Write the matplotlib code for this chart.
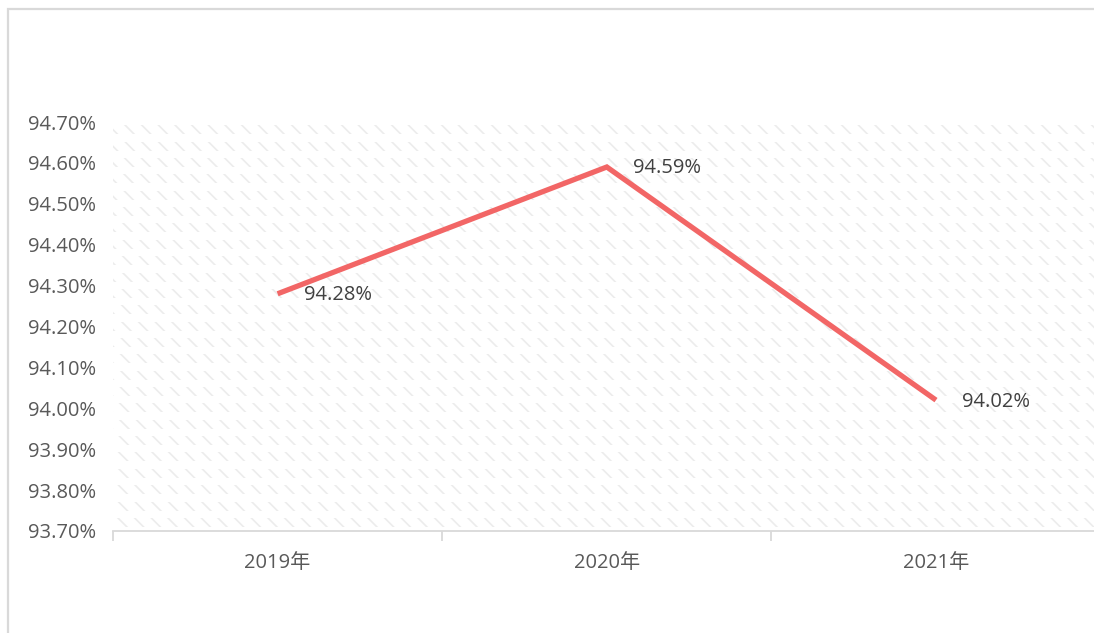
import matplotlib
matplotlib.use("Agg")
import matplotlib.pyplot as plt
from matplotlib.patches import Rectangle
from matplotlib.ticker import FuncFormatter, FixedLocator, MultipleLocator
import numpy as np

plt.rcParams['font.family'] = ['Open Sans', 'Noto Sans CJK SC', 'DejaVu Sans']
plt.rcParams['hatch.linewidth'] = 1.2

categories = ['2019年', '2020年', '2021年']
values = [94.28, 94.59, 94.02]
labels = ['94.28%', '94.59%', '94.02%']
y_min, y_max, y_step = 93.70, 94.70, 0.10

fig = plt.figure(figsize=(10.94, 6.33), dpi=100)
# outer light border
fig.patches.append(Rectangle((8/1094, -0.01), 1.2, (633-9)/633 + 0.01, transform=fig.transFigure,
                             fill=False, edgecolor='#d9d9d9', linewidth=1.6))

ax = fig.add_axes([113/1094, 102/633, (1094-113)/1094, 409/633])
x = np.arange(len(categories))

ax.set_xlim(-0.5, 2.48)
ax.set_ylim(y_min, y_max)

# banded hatched background (decorative)
band_period = 0.04
for b0 in np.arange(y_max, y_min, -band_period):
    ax.axhspan(b0 - 0.030, b0 - 0.008, facecolor='none', edgecolor='#ececec',
               hatch='\\\\', linewidth=0, zorder=0)

ax.plot(x, values, color='#F26666', linewidth=3.8, solid_capstyle='butt',
        solid_joinstyle='miter', zorder=3)

for xi, v, lab in zip(x, values, labels):
    ax.annotate(lab, (xi, v), xytext=(19, -1), textcoords='offset points',
                ha='left', va='center', fontsize=14.5, color='#404040', zorder=4)

ax.yaxis.set_major_locator(MultipleLocator(y_step))
ax.yaxis.set_major_formatter(FuncFormatter(lambda v, p: f'{v:.2f}%'))
ax.tick_params(axis='y', length=0, pad=12, labelsize=14.5, labelcolor='#595959')

ax.set_xticks(x)
ax.set_xticklabels(categories)
ax.xaxis.set_minor_locator(FixedLocator([-0.5, 0.5, 1.5, 2.5]))
ax.tick_params(axis='x', which='major', length=0, pad=16, labelsize=14.5, labelcolor='#595959')
ax.tick_params(axis='x', which='minor', length=7, width=1.3, color='#d9d9d9')

for s in ['top', 'right', 'left']:
    ax.spines[s].set_visible(False)
ax.spines['bottom'].set_color('#d9d9d9')
ax.spines['bottom'].set_linewidth(1.3)

fig.savefig('out.png', dpi=100)
